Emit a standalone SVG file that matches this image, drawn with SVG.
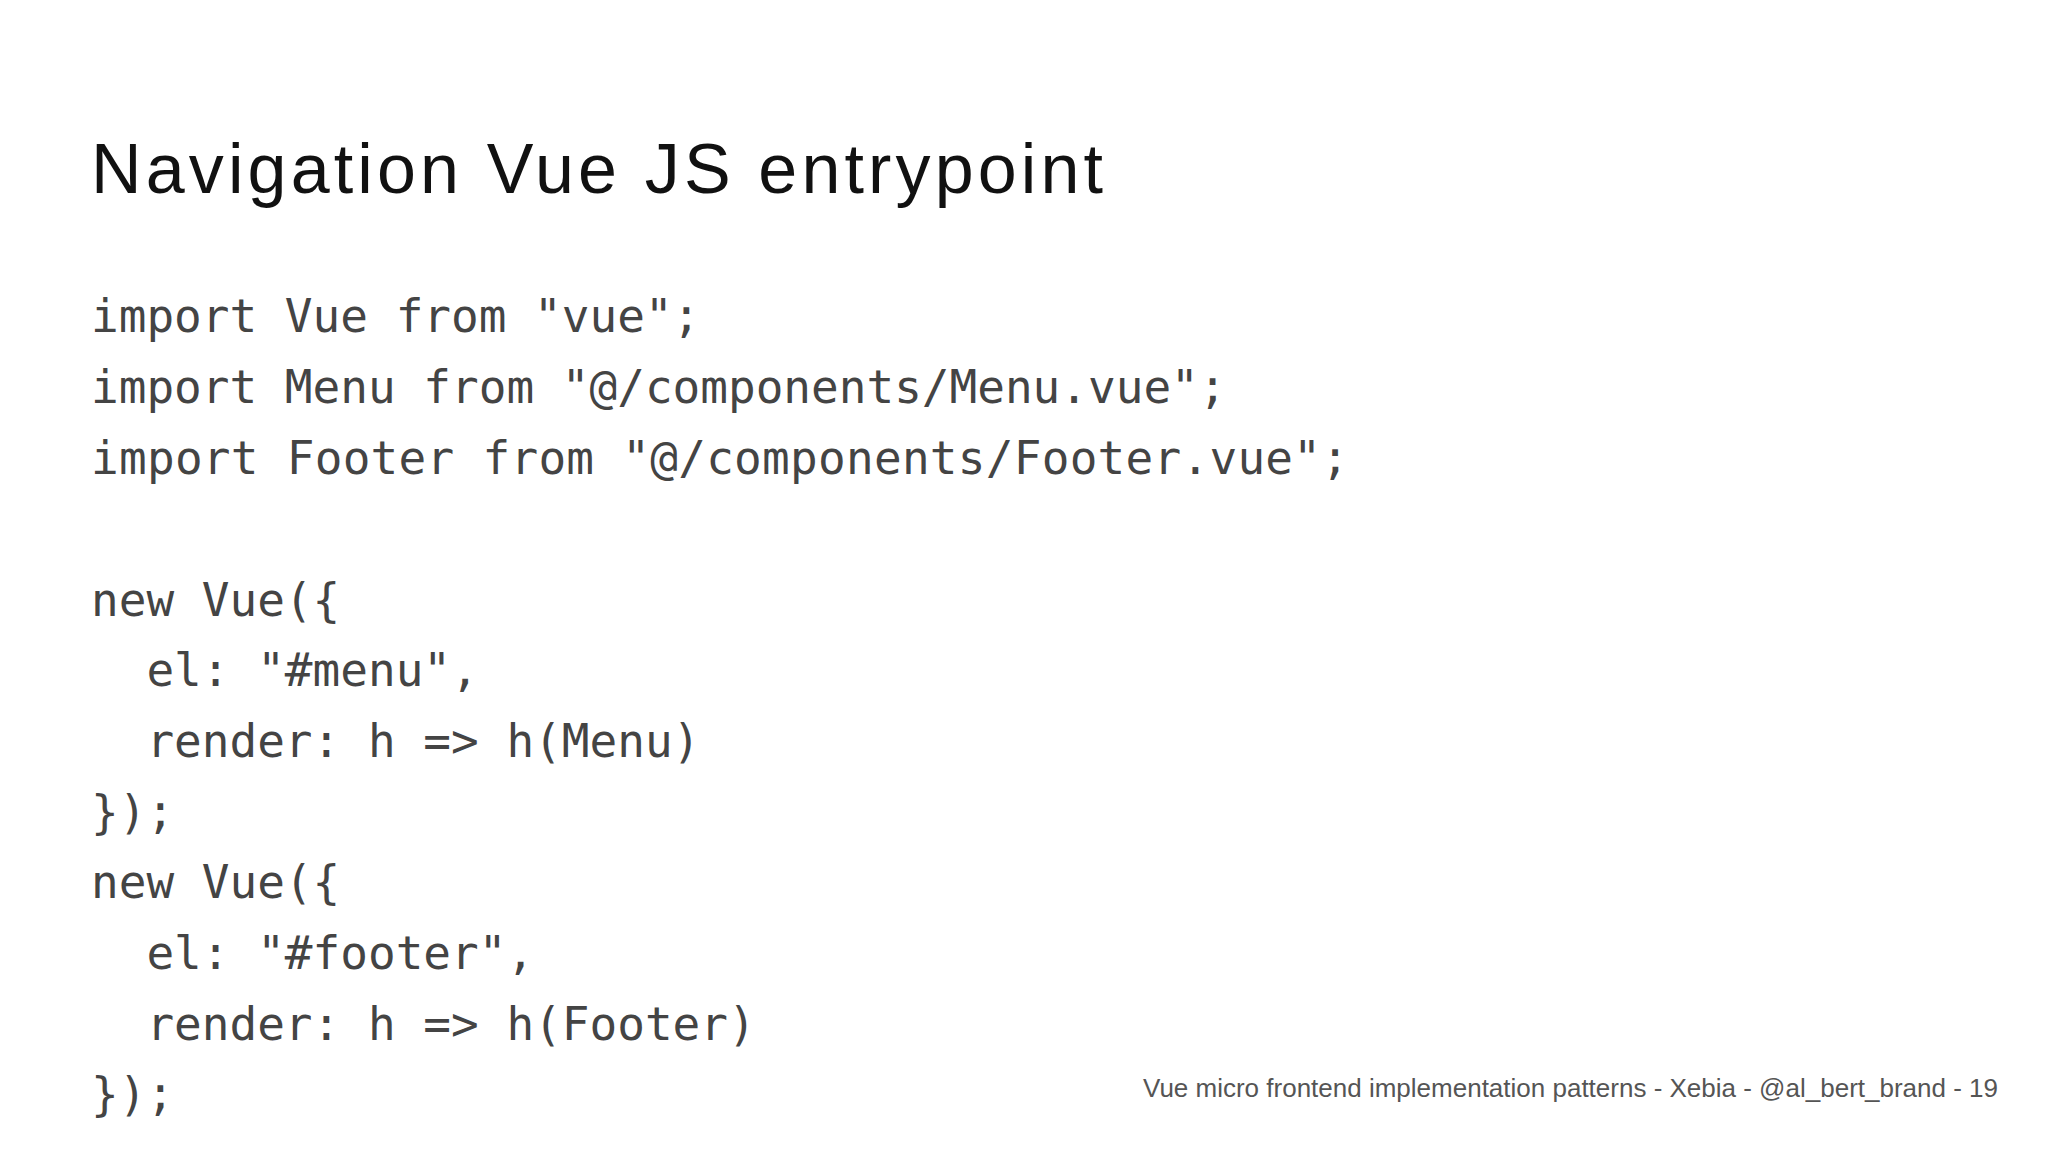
<svg xmlns="http://www.w3.org/2000/svg" width="2048" height="1152" viewBox="0 0 2048 1152">
<style>
.t{font-family:"Liberation Sans",Arial,sans-serif;fill:#111}
.c{font-family:"DejaVu Sans Mono","Liberation Mono",monospace;font-size:46px;fill:#444;white-space:pre}
.f{font-family:"Liberation Sans",Arial,sans-serif;font-size:26px;fill:#555}
</style>
<rect width="2048" height="1152" fill="#fff"/>
<g id="title"><text class="t" x="91" y="193" font-size="70" textLength="1012">Navigation Vue JS entrypoint</text></g>
<g id="code" xml:space="preserve">
<text class="c" x="91" y="332">import Vue from "vue";</text>
<text class="c" x="91" y="403">import Menu from "@/components/Menu.vue";</text>
<text class="c" x="91" y="474" textLength="1258">import Footer from "@/components/Footer.vue";</text>
<text class="c" x="91" y="616">new Vue({</text>
<text class="c" x="91" y="686">  el: "#menu",</text>
<text class="c" x="91" y="757">  render: h =&gt; h(Menu)</text>
<text class="c" x="91" y="828">});</text>
<text class="c" x="91" y="898">new Vue({</text>
<text class="c" x="91" y="969">  el: "#footer",</text>
<text class="c" x="91" y="1040">  render: h =&gt; h(Footer)</text>
<text class="c" x="91" y="1110">});</text>
</g>
<g id="footer"><text class="f" x="1998" y="1097" text-anchor="end">Vue micro frontend implementation patterns - Xebia - @al_bert_brand - 19</text></g>
</svg>
